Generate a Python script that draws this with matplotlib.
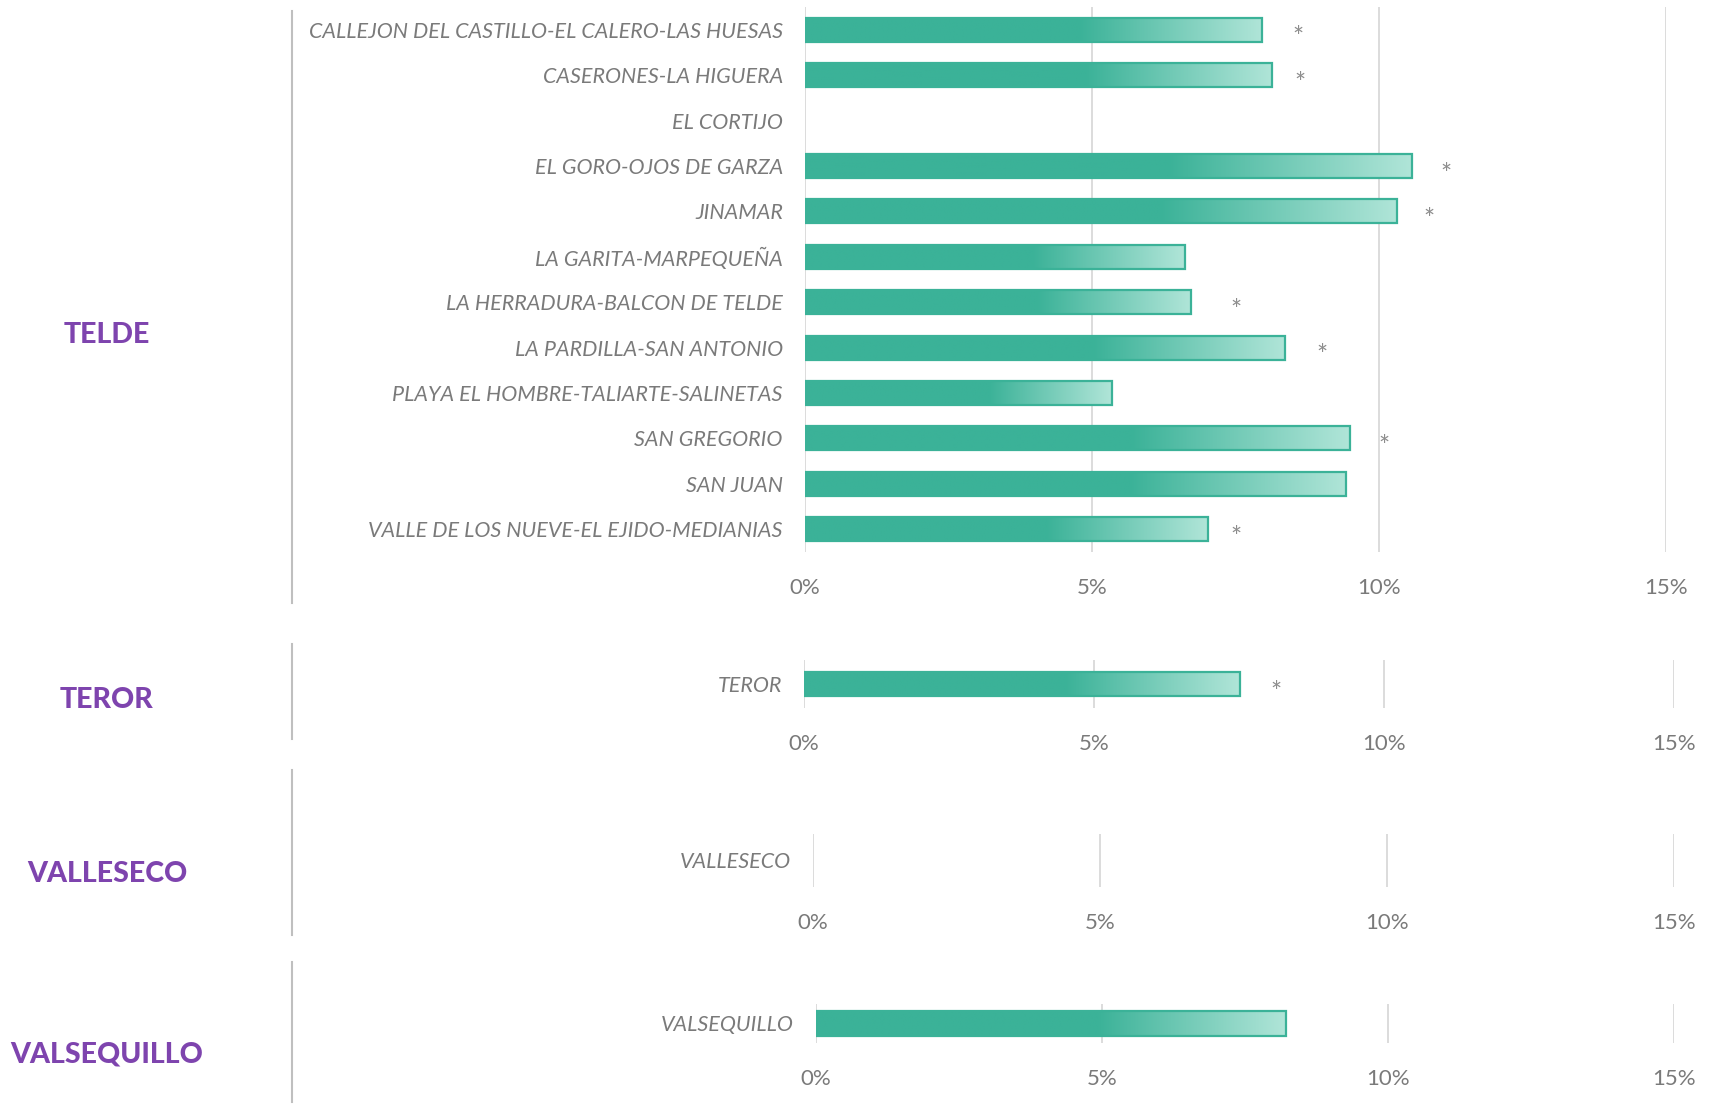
import matplotlib
matplotlib.use('Agg')
import matplotlib.pyplot as plt
import numpy as np
from matplotlib.colors import to_rgba

# share of population per area (%), nan = no value
telde_names = ['CALLEJON DEL CASTILLO-EL CALERO-LAS HUESAS', 'CASERONES-LA HIGUERA', 'EL CORTIJO',
               'EL GORO-OJOS DE GARZA', 'JINAMAR', 'LA GARITA-MARPEQUEÑA', 'LA HERRADURA-BALCON DE TELDE',
               'LA PARDILLA-SAN ANTONIO', 'PLAYA EL HOMBRE-TALIARTE-SALINETAS', 'SAN GREGORIO', 'SAN JUAN',
               'VALLE DE LOS NUEVE-EL EJIDO-MEDIANIAS']
telde_vals = [7.97, 8.14, np.nan, 10.57, 10.32, 6.62, 6.73, 8.37, 5.34, 9.49, 9.43, 7.02]
# where the significance mark sits (%), nan = not significant
telde_star = [8.59, 8.63, np.nan, 11.16, 10.87, np.nan, 7.51, 9.01, np.nan, 10.08, np.nan, 7.51]

teror_names = ['TEROR']
teror_vals = [7.51]
teror_star = [8.14]

valleseco_names = ['VALLESECO']
valleseco_vals = [np.nan]
valleseco_star = [np.nan]

valsequillo_names = ['VALSEQUILLO']
valsequillo_vals = [8.21]
valsequillo_star = [np.nan]

groups = ['TELDE', 'TEROR', 'VALLESECO', 'VALSEQUILLO']
xticks = [0, 5, 10, 15]

W, H = 1711, 1104
TEAL = '#3bb298'
LIGHT = '#b0e5d8'
GRAY = '#7a7a7a'
PURPLE = '#7e44ae'
ROW_PX = 45.4

fig = plt.figure(figsize=(W / 100, H / 100), dpi=100)


def px_axes(left, top, right, bottom):
    return fig.add_axes([left / W, 1 - bottom / H, (right - left) / W, (bottom - top) / H])


def gradient_img():
    c1 = np.array(to_rgba(TEAL))
    c2 = np.array(to_rgba(LIGHT))
    t = np.linspace(0, 1, 256)
    f = np.clip((t - 0.6) / 0.4, 0, 1)[:, None]
    return (c1 * (1 - f) + c2 * f)[None, :, :]


def panel(box, names, vals, stars):
    ax = px_axes(*box)
    n = len(names)
    span = (box[3] - box[1]) / ROW_PX
    mid = (n - 1) / 2
    y = np.arange(n)
    img = gradient_img()
    bars = ax.barh(y, np.nan_to_num(vals), height=0.53, facecolor='none', edgecolor=TEAL,
                   linewidth=1.6, zorder=3)
    for b, v in zip(bars, vals):
        if np.isnan(v):
            b.set_visible(False)
            continue
        im = ax.imshow(img, extent=[b.get_x(), b.get_x() + b.get_width(), b.get_y(), b.get_y() + b.get_height()],
                       aspect='auto', zorder=2, interpolation='bilinear')
        im.set_clip_path(b)
    for yi, s in zip(y, stars):
        if not np.isnan(s):
            ax.text(s, yi + 0.2, '*', ha='center', va='center', fontsize=19, color='#8c8c8c', family='Lato')
    ax.set_xlim(0, 15)
    ax.set_ylim(mid + span / 2, mid - span / 2)
    ax.set_yticks(y)
    ax.set_yticklabels(names, fontsize=15.5, color=GRAY, style='italic', family='Lato')
    ax.set_xticks(xticks)
    ax.set_xticklabels([f'{t}%' for t in xticks], fontsize=16, color=GRAY, family='Lato')
    ax.tick_params(length=0)
    ax.tick_params(axis='y', pad=16)
    ax.tick_params(axis='x', pad=19)
    ax.grid(axis='x', color='#d9d9d9', linewidth=1.3, zorder=0)
    ax.set_axisbelow(True)
    for sp in ax.spines.values():
        sp.set_visible(False)
    return ax


panel((805, 7, 1666, 552), telde_names, telde_vals, telde_star)
panel((804, 660, 1674, 708), teror_names, teror_vals, teror_star)
panel((813, 834, 1674, 887), valleseco_names, valleseco_vals, valleseco_star)
panel((816, 1004, 1674, 1043), valsequillo_names, valsequillo_vals, valsequillo_star)

# group labels and the grey separators on the left
label_y = [335, 700, 874, 1055]
sep_spans = [(11, 603), (644, 739), (770, 935), (962, 1102)]
for g, ly, (s0, s1) in zip(groups, label_y, sep_spans):
    fig.text(107 / W, 1 - ly / H, g, ha='center', va='center', fontsize=20.5, color=PURPLE,
             fontweight='black', family='Lato')
    fig.add_artist(plt.Line2D([292 / W, 292 / W], [1 - s0 / H, 1 - s1 / H], color='#bfbfbf', linewidth=1.5))

fig.savefig('out.png', dpi=100, facecolor='white')
